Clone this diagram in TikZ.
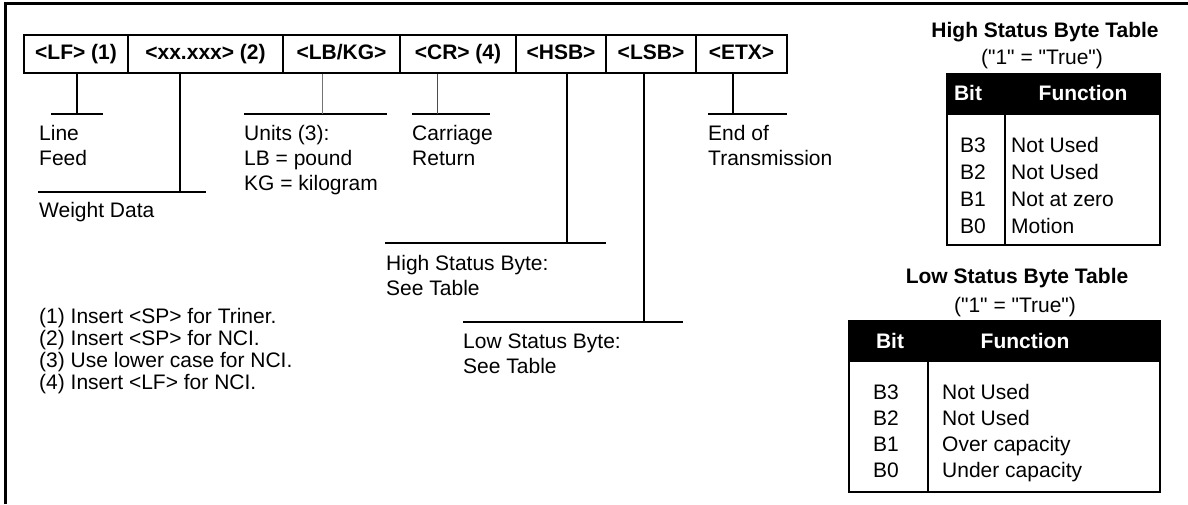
\documentclass[tikz,border=0pt]{standalone}
\usepackage{fontspec}
\setmainfont{Liberation Sans}
\newfontfamily\plainfont{Liberation Sans}
\begin{document}
\begin{tikzpicture}[x=1pt,y=-1pt,
  every node/.style={inner sep=0pt, font=\fontsize{21}{25}\selectfont},
  pbox/.style={draw, line width=1.4pt, minimum height=38pt, text height=15pt, text depth=4pt,
    font=\fontsize{21}{25}\selectfont\bfseries},
  lead/.style={line width=1.5pt},
  lbl/.style={anchor=base west, align=left},
  tbl/.style={line width=1.6pt},
  hdr/.style={text=white, font=\fontsize{21}{25}\selectfont\bfseries, anchor=base},
  rowtxt/.style={anchor=base west, align=left, font=\fontsize{21}{26.7}\selectfont},
  subt/.style={anchor=base, font=\plainfont\fontsize{21}{25}\selectfont}
]
\useasboundingbox (0,0) rectangle (1188,504);
% frame
\draw[line width=3pt] (5,504) -- (5,3) -- (1188,3);

% packet boxes
\node[pbox, minimum width=104pt] (lf)  at (76,54)    {<LF> (1)};
\node[pbox, minimum width=155pt] (xx)  at (205.5,54) {<xx.xxx> (2)};
\node[pbox, minimum width=117pt] (lb)  at (341.5,54) {<LB/KG>};
\node[pbox, minimum width=116pt] (cr)  at (458,54)   {<CR> (4)};
\node[pbox, minimum width=90pt]  (hsb) at (561,54)   {<HSB>};
\node[pbox, minimum width=90pt]  (lsb) at (651,54)   {<LSB>};
\node[pbox, minimum width=91pt]  (etx) at (741.5,54) {<ETX>};

% leader bars
\coordinate (lfA) at (51,114);  \coordinate (lfB) at (103,114); \coordinate (lfV) at (77,114);
\coordinate (xxA) at (38,192);  \coordinate (xxB) at (206,192); \coordinate (xxV) at (180,192);
\coordinate (lbA) at (244,114); \coordinate (lbB) at (387,114); \coordinate (lbV) at (322,114);
\coordinate (crA) at (412,114); \coordinate (crB) at (490,114); \coordinate (crV) at (437,114);
\coordinate (hsA) at (385,243); \coordinate (hsB) at (606,243); \coordinate (hsV) at (567,243);
\coordinate (lsA) at (463,322); \coordinate (lsB) at (683,322); \coordinate (lsV) at (644,322);
\coordinate (etA) at (708,114); \coordinate (etB) at (787,114); \coordinate (etV) at (733,114);

\draw[lead] (lfA) -- (lfB); \draw[lead] (lf.south -| lfV) -- (lfV);
\draw[lead] (xxA) -- (xxB); \draw[lead] (xx.south -| xxV) -- (xxV);
\draw[lead] (lbA) -- (lbB); \draw[line width=1pt, black!55] (lb.south -| lbV) -- (lbV);
\draw[lead] (crA) -- (crB); \draw[line width=1pt, black!70] (cr.south -| crV) -- (crV);
\draw[lead] (hsA) -- (hsB); \draw[lead] (hsb.south -| hsV) -- (hsV);
\draw[lead] (lsA) -- (lsB); \draw[lead] (lsb.south -| lsV) -- (lsV);
\draw[lead] (etA) -- (etB); \draw[lead] (etx.south -| etV) -- (etV);

% labels (base = baseline of the last line)
\node[lbl] (tlf) at (39,165)  {Line\\Feed};
\node[lbl] (txx) at (39,217)  {Weight Data};
\node[lbl] (tlb) at (244,190) {Units (3):\\LB = pound\\KG = kilogram};
\node[lbl] (tcr) at (412,165) {Carriage\\Return};
\node[lbl] (ths) at (386,295) {High Status Byte:\\See Table};
\node[lbl] (tls) at (463,373) {Low Status Byte:\\See Table};
\node[lbl] (tet) at (708,165) {End of\\Transmission};

% notes
\node[anchor=base west, align=left, font=\fontsize{21}{22}\selectfont] (notes) at (39,389)
  {(1) Insert <SP> for Triner.\\(2) Insert <SP> for NCI.\\(3) Use lower case for NCI.\\(4) Insert <LF> for NCI.};

% High status table
\node[anchor=base, font=\fontsize{21}{25}\selectfont\bfseries] (ht) at (1045,37) {High Status Byte Table};
\node[subt] (hs) at (1042,64) {("1" = "True")};
\fill (947,74) rectangle (1160,115);
\draw[tbl] (947,74) rectangle (1160,245);
\draw[tbl] (1005,115) -- (1005,245);
\node[hdr] (hbit) at (968,100) {Bit};
\node[hdr] (hfun) at (1083,100) {Function};
\node[rowtxt] (hb) at (960,233) {B3\\B2\\B1\\B0};
\node[rowtxt] (hf) at (1011,233) {Not Used\\Not Used\\Not at zero\\Motion};

% Low status table
\node[anchor=base, font=\fontsize{21}{25}\selectfont\bfseries] (lt) at (1017,283) {Low Status Byte Table};
\node[subt] (ls) at (1015,312) {("1" = "True")};
\fill (849,321) rectangle (1160,362);
\draw[tbl] (849,321) rectangle (1160,492);
\draw[tbl] (928,362) -- (928,492);
\node[hdr] (lbit) at (890,348) {Bit};
\node[hdr] (lfun) at (1025,348) {Function};
\node[rowtxt, font=\fontsize{21}{25.7}\selectfont] (lb2) at (873,477) {B3\\B2\\B1\\B0};
\node[rowtxt, font=\fontsize{21}{25.7}\selectfont] (lf2) at (942,477) {Not Used\\Not Used\\Over capacity\\Under capacity};
\end{tikzpicture}
\end{document}
